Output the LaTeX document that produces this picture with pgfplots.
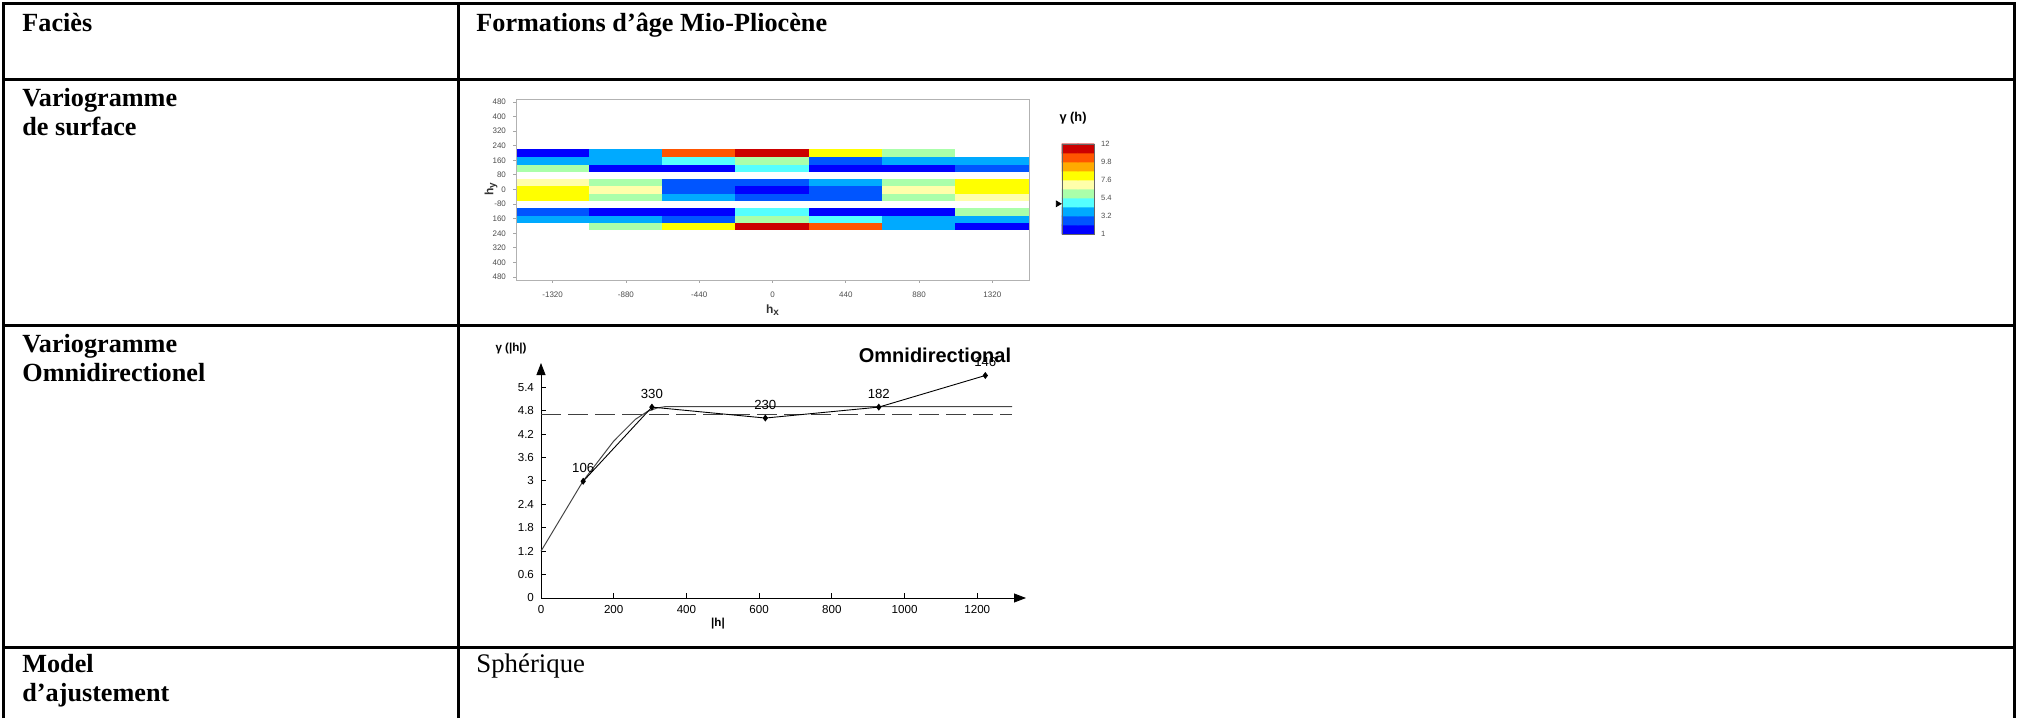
\documentclass[border=0pt]{standalone}
\usepackage{pgfplots}
\pgfplotsset{compat=1.18}
\usepackage{fontspec}
\setmainfont{Liberation Serif}
\setsansfont{Liberation Sans}
\usetikzlibrary{arrows.meta}
\newcommand{\hd}{\fontsize{13.4}{14.5}\selectfont}
\newcommand{\hb}{\fontsize{13.1}{14}\selectfont\bfseries}
\pgfplotsset{colormap={vario}{rgb255=(0,0,255) rgb255=(0,85,255) rgb255=(0,170,255) rgb255=(85,255,255) rgb255=(170,255,170) rgb255=(255,255,170) rgb255=(255,255,0) rgb255=(255,170,0) rgb255=(255,85,0) rgb255=(204,0,0) rgb255=(255,255,255)}}
\pgfplotstableread{
x y c
-1320 -200 10
-880 -200 4
-440 -200 6
0 -200 9
440 -200 8
880 -200 2
1320 -200 0
-1320 -160 2
-880 -160 2
-440 -160 1
0 -160 4
440 -160 3
880 -160 2
1320 -160 2
-1320 -120 1
-880 -120 0
-440 -120 0
0 -120 3
440 -120 0
880 -120 0
1320 -120 4
-1320 -80 10
-880 -80 10
-440 -80 10
0 -80 10
440 -80 10
880 -80 10
1320 -80 10
-1320 -40 6
-880 -40 4
-440 -40 2
0 -40 1
440 -40 1
880 -40 4
1320 -40 5
-1320 0 6
-880 0 5
-440 0 1
0 0 0
440 0 1
880 0 5
1320 0 6
-1320 40 5
-880 40 4
-440 40 1
0 40 1
440 40 2
880 40 4
1320 40 6
-1320 80 10
-880 80 10
-440 80 10
0 80 10
440 80 10
880 80 10
1320 80 10
-1320 120 4
-880 120 0
-440 120 0
0 120 3
440 120 0
880 120 0
1320 120 1
-1320 160 2
-880 160 2
-440 160 3
0 160 4
440 160 1
880 160 2
1320 160 2
-1320 200 0
-880 200 2
-440 200 8
0 200 9
440 200 6
880 200 4
1320 200 10
}\vmap
\pgfplotstableread{
x y c
0.25 1.55 0
0.75 1.55 0
0.25 2.65 1
0.75 2.65 1
0.25 3.75 2
0.75 3.75 2
0.25 4.85 3
0.75 4.85 3
0.25 5.95 4
0.75 5.95 4
0.25 7.05 5
0.75 7.05 5
0.25 8.15 6
0.75 8.15 6
0.25 9.25 7
0.75 9.25 7
0.25 10.35 8
0.75 10.35 8
0.25 11.45 9
0.75 11.45 9
}\cbar
\begin{document}
\begin{tikzpicture}[x=0.5pt,y=0.5pt]
\useasboundingbox (0,0) rectangle (2018,718);
% ---------- table ----------
\draw[line width=1.5pt] (3,0) -- (3,714) -- (2014,714) -- (2014,0);
\draw[line width=1.5pt] (458,0) -- (458,714);
\foreach \yy in {638,392,71} \draw[line width=1.5pt] (3,\yy) -- (2014,\yy);
\node[anchor=base west, inner sep=0] at (22,686) {\hb Faciès};
\node[anchor=base west, inner sep=0] at (476,686) {\hb Formations d’âge Mio-Pliocène};
\node[anchor=base west, inner sep=0] at (22,611) {\hb Variogramme};
\node[anchor=base west, inner sep=0] at (22,582) {\hb de surface};
\node[anchor=base west, inner sep=0] at (22,365) {\hb Variogramme};
\node[anchor=base west, inner sep=0] at (22,336) {\hb Omnidirectionel};
\node[anchor=base west, inner sep=0] at (22,46) {\hb Model};
\node[anchor=base west, inner sep=0] at (22,17) {\hb d’ajustement};
\node[anchor=base west, inner sep=0] at (476,46) {\hd Sphérique};
% ---------- variogram map ----------
\begin{axis}[at={(258pt,219pt)}, anchor=south west, scale only axis,
  width=256.5pt, height=90.5pt,
  xmin=-1540, xmax=1540, ymin=-496, ymax=496,
  axis on top, axis line style={draw=gray!60},
  tick style={draw=gray!70, thin}, tick align=outside, major tick length=1.5pt,
  tick pos=left,
  xtick={-1320,-880,-440,0,440,880,1320},
  xticklabels={-1320,-880,-440,0,440,880,1320},
  ytick={-480,-400,-320,-240,-160,-80,0,80,160,240,320,400,480},
  yticklabels={480,400,320,240,160,-80,0,80,160,240,320,400,480},
  ticklabel style={font=\fontsize{4}{4}\sffamily, text=black!70},
  xticklabel style={yshift=-1pt},
  colormap name=vario]
\addplot[matrix plot*, mesh/cols=7, point meta=explicit, colormap access=direct] table[meta=c] {\vmap};
\end{axis}
\node[font=\fontsize{6}{6}\sffamily\bfseries, text=black!80] at (773,408) {h\textsubscript{x}};
\node[font=\fontsize{6}{6}\sffamily\bfseries, text=black!80, rotate=90] at (491,529) {h\textsubscript{y}};
% ---------- colour bar ----------
\begin{axis}[at={(531pt,242pt)}, anchor=south west, scale only axis,
  width=16pt, height=45pt, xmin=0, xmax=1, ymin=1, ymax=12,
  axis on top, axis line style={draw=black!60}, clip=false,
  xtick=\empty, ytick={1,3.2,5.4,7.6,9.8,12}, yticklabels={1,3.2,5.4,7.6,9.8,12},
  yticklabel pos=right, major tick length=0pt,
  ticklabel style={font=\fontsize{3.8}{4}\sffamily, text=black!70},
  colormap name=vario]
\addplot[matrix plot*, mesh/cols=2, point meta=explicit, colormap access=direct] table[meta=c] {\cbar};
\addplot[only marks, mark=triangle*, mark size=1.6pt, mark options={rotate=-90, fill=black}] coordinates {(-0.13,4.69)};
\end{axis}
\node[font=\fontsize{6.4}{6.4}\sffamily\bfseries] at (1073,600) {γ (h)};
% ---------- omnidirectional variogram ----------
\begin{axis}[at={(270.5pt,60pt)}, anchor=south west, scale only axis,
  width=242.5pt, height=117.5pt,
  xmin=0, xmax=1334, ymin=0, ymax=6.02,
  axis x line=bottom, axis y line=left, clip=false,
  x axis line style={-{Triangle[length=6pt,width=4.5pt]}},
  y axis line style={-{Triangle[length=6pt,width=4.5pt]}},
  tick align=inside, major tick length=2.5pt, tick style={black, thin},
  xtick={0,200,400,600,800,1000,1200}, xticklabels={0,200,400,600,800,1000,1200},
  ytick={0,0.6,1.2,1.8,2.4,3,3.6,4.2,4.8,5.4},
  yticklabels={0,0.6,1.2,1.8,2.4,3,3.6,4.2,4.8,5.4},
  ticklabel style={font=\fontsize{5.8}{6}\sffamily}]
\addplot[gray!55!black, line width=0.5pt] coordinates {(0,1.2) (116,3.0) (200,4.02) (260,4.58) (293,4.78) (320,4.87) (340,4.9) (1296,4.9)};
\addplot[gray!50!black, line width=0.5pt, dash pattern=on 10pt off 3.5pt] coordinates {(0,4.69) (1296,4.69)};
\addplot[black, line width=0.45pt, mark=diamond*, mark size=1.4pt,
  point meta=explicit symbolic, nodes near coords,
  nodes near coords style={font=\fontsize{6.6}{6.6}\sffamily, yshift=0.8pt}]
  coordinates {(116,2.99) [106] (305,4.89) [330] (617,4.61) [230] (929,4.89) [182] (1222,5.70) [146]};
\end{axis}
\node[font=\fontsize{5.8}{6}\sffamily\bfseries] at (511,369) {γ (|h|)};
\node[font=\fontsize{10}{10}\sffamily\bfseries] at (935,363) {Omnidirectional};
\node[font=\fontsize{5.8}{6}\sffamily\bfseries] at (718,94) {|h|};
\end{tikzpicture}
\end{document}
